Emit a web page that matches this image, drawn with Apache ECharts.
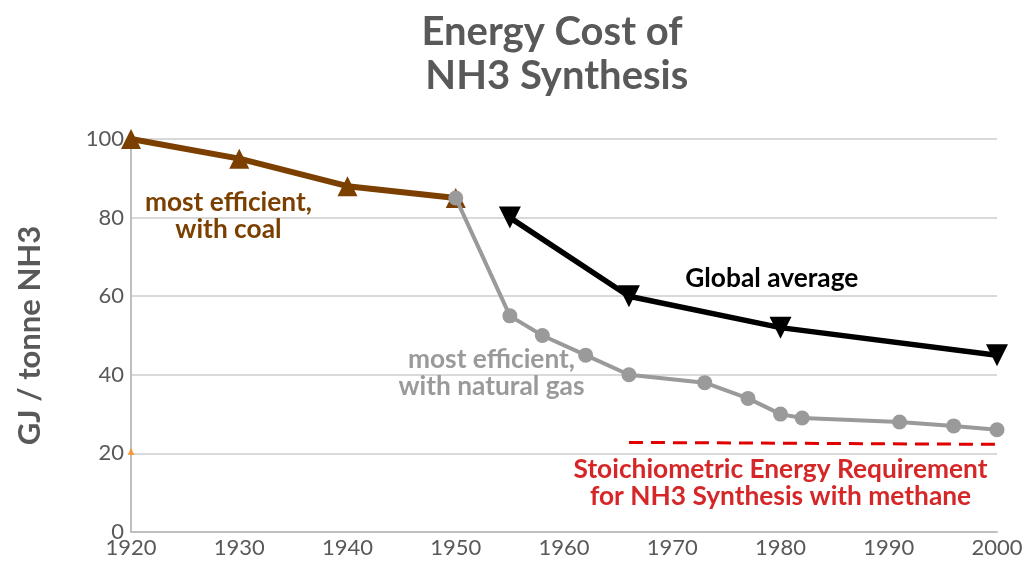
<!DOCTYPE html>
<html><head><meta charset="utf-8">
<script src="https://cdn.jsdelivr.net/npm/echarts@6/dist/echarts.min.js"></script>
<style>html,body{margin:0;padding:0;background:#fff}#c{width:1027px;height:563px}</style>
</head><body><div id="c"></div>
<script>
const coalData = [[1920,100],[1930,95],[1940,88],[1950,85]];
const gasData = [[1950,85],[1955,55],[1958,50],[1962,45],[1966,40],[1973,38],[1977,34],[1980,30],[1982,29],[1991,28],[1996,27],[2000,26]];
const globalData = [[1955,80],[1966,60],[1980,52],[2000,45]];
const stoichData = [[1966,22.8],[2000,22.3]];
const markerData = [[1920,20.5]];
const xTicks = [1920,1930,1940,1950,1960,1970,1980,1990,2000];
const yTicks = [0,20,40,60,80,100];

const FONT = 'Lato';
function note(coord, text, color) {
  return {
    symbol: 'circle', symbolSize: 0, silent: true,
    data: [{ coord: coord, value: text,
      label: { show: true, position: 'inside', formatter: text, color: color,
        fontFamily: FONT, fontWeight: 'bold', fontSize: 26.3, lineHeight: 27, align: 'center' } }]
  };
}
const chart = echarts.init(document.getElementById('c'), null, {renderer: 'canvas'});
chart.setOption({
  animation: false,
  backgroundColor: '#fff',
  title: {
    text: 'Energy Cost of\n NH3 Synthesis', left: 547, top: 5, textAlign: 'center',
    textStyle: { fontFamily: FONT, fontWeight: 'bold', fontSize: 40, lineHeight: 44, color: '#595959' }
  },
  grid: { left: 131, right: 30, top: 139, bottom: 31, containLabel: false },
  xAxis: {
    type: 'value', min: 1920, max: 2000, interval: 10,
    axisLine: { show: true, lineStyle: { color: '#bfbfbf', width: 2 } },
    axisTick: { show: false },
    splitLine: { show: false },
    axisLabel: { fontFamily: FONT, fontSize: 22, color: '#595959', margin: 5,
      formatter: v => xTicks.includes(v) ? String(v) : '' }
  },
  yAxis: {
    type: 'value', min: 0, max: 100, interval: 20,
    name: 'GJ / tonne NH3', nameLocation: 'middle', nameGap: 86, nameRotate: 90,
    nameTextStyle: { fontFamily: FONT, fontWeight: 'bold', fontSize: 31, color: '#595959' },
    axisLine: { show: true, lineStyle: { color: '#bfbfbf', width: 2 } },
    axisTick: { show: false },
    splitLine: { show: true, lineStyle: { color: '#d9d9d9', width: 2 } },
    axisLabel: { fontFamily: FONT, fontSize: 22, color: '#595959', margin: 7,
      formatter: v => yTicks.includes(v) ? String(v) : '' }
  },
  series: [
    { type: 'line', data: stoichData, symbol: 'none', z: 2,
      lineStyle: { color: '#e00000', width: 3, type: [14, 8] },
      markPoint: note([1980, 12.5], 'Stoichiometric Energy Requirement\nfor NH3 Synthesis with methane', '#d62728') },
    { type: 'line', data: coalData, symbol: 'triangle', symbolSize: 20, z: 3,
      itemStyle: { color: '#7b3f00' }, lineStyle: { color: '#7b3f00', width: 6 },
      markPoint: note([1929, 80.4], 'most efficient,\nwith coal', '#7b3f00') },
    { type: 'line', data: gasData, symbol: 'circle', symbolSize: 15, z: 4,
      itemStyle: { color: '#9a9a9a' }, lineStyle: { color: '#9a9a9a', width: 4 },
      markPoint: note([1953.3, 40.5], 'most efficient,\nwith natural gas', '#9a9a9a') },
    { type: 'line', data: globalData, symbol: 'triangle', symbolRotate: 180, symbolSize: 22, z: 5,
      itemStyle: { color: '#000' }, lineStyle: { color: '#000', width: 5.5 },
      markPoint: note([1979.2, 64.6], 'Global average', '#000') },
    { type: 'scatter', data: markerData, symbol: 'triangle', symbolSize: 7, z: 6,
      itemStyle: { color: '#ff8c1a' } }
  ]
});
</script></body></html>
